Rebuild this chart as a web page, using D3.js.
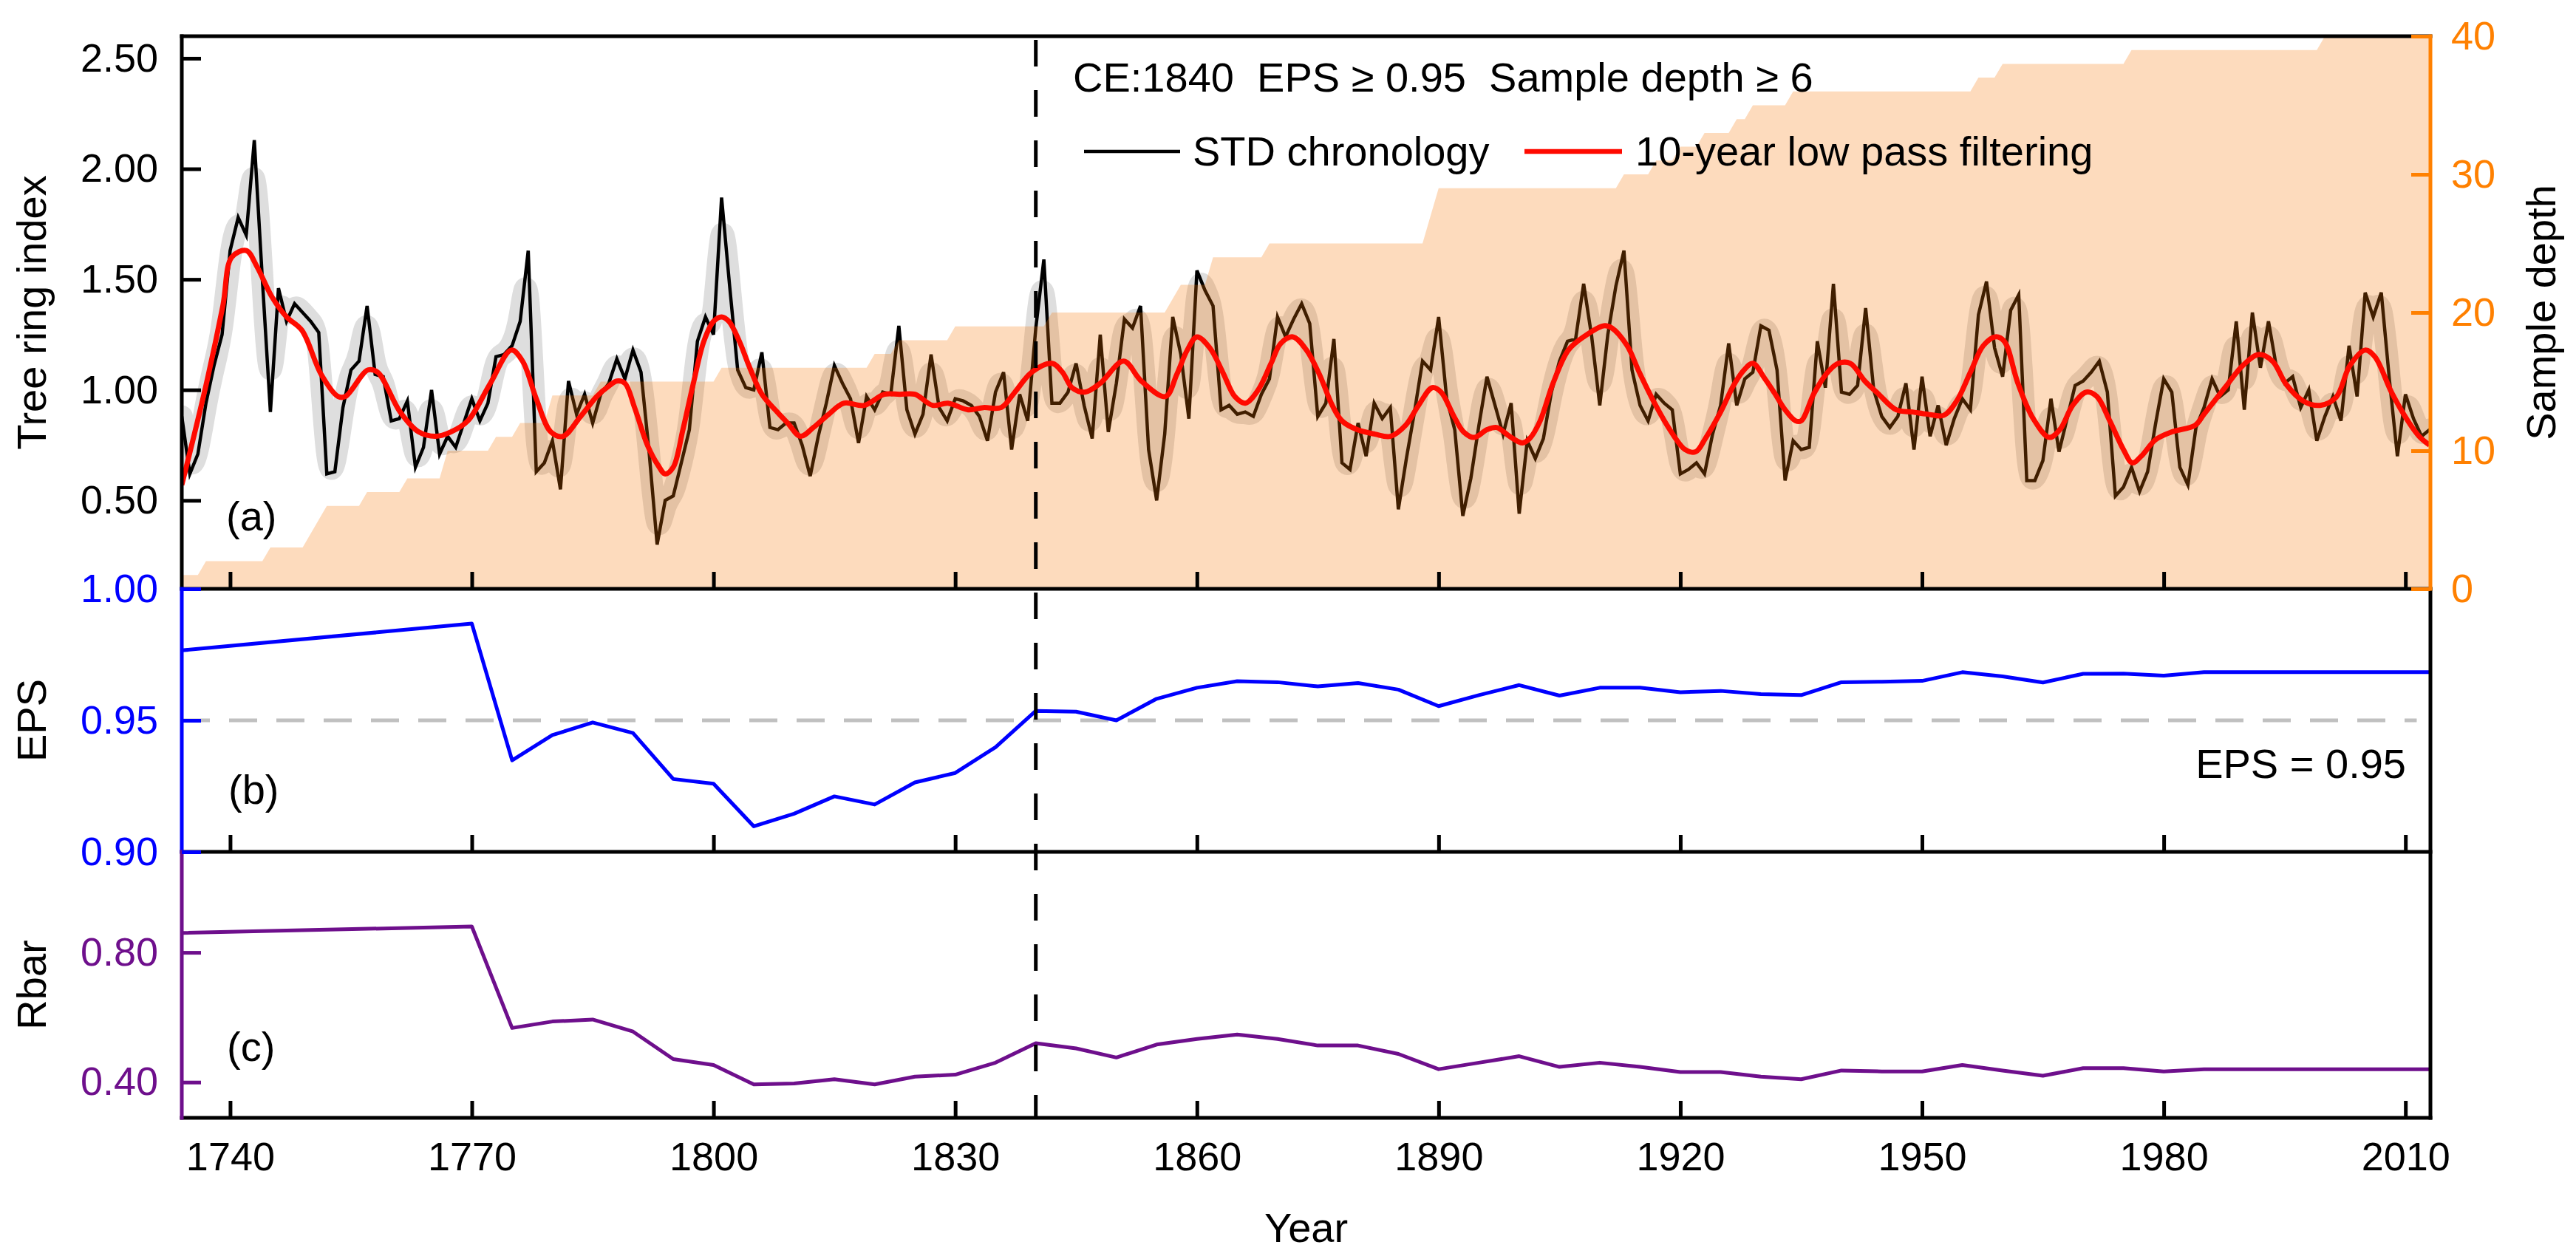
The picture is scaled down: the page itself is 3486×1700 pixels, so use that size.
<!DOCTYPE html>
<html>
<head>
<meta charset="utf-8">
<script src="https://cdn.jsdelivr.net/npm/d3@7"></script>
<style>
  body { margin: 0; background: #ffffff; }
  svg text { font-family: "Liberation Sans", Arial, sans-serif; }
</style>
</head>
<body>
<svg id="chart" width="3486" height="1700"></svg>
<script>
// ---------------- DATA ----------------
const firstYear = 1734;
// STD chronology, one value per year 1734..2013
const stdIndex = [
  0.88,0.62,0.71,0.94,1.11,1.25,                          // 1734-1739
  1.63,1.78,1.70,2.13,1.50,0.90,1.46,1.31,1.39,1.35,      // 1740s
  1.31,1.26,0.62,0.63,0.92,1.09,1.13,1.38,1.07,1.06,      // 1750s
  0.86,0.87,0.95,0.65,0.74,1.00,0.71,0.79,0.74,0.85,      // 1760s
  0.96,0.86,0.94,1.15,1.16,1.20,1.31,1.63,0.63,0.67,      // 1770s
  0.77,0.55,1.04,0.89,0.98,0.85,0.98,1.03,1.14,1.05,      // 1780s
  1.18,1.08,0.72,0.30,0.50,0.52,0.67,0.82,1.22,1.33,      // 1790s
  1.25,1.87,1.47,1.09,1.01,1.00,1.17,0.83,0.82,0.85,      // 1800s
  0.85,0.75,0.61,0.79,0.94,1.11,1.03,0.96,0.76,0.97,      // 1810s
  0.91,0.99,0.98,1.29,0.91,0.80,0.89,1.16,0.92,0.86,      // 1820s
  0.96,0.95,0.93,0.88,0.77,0.99,1.08,0.73,0.98,0.86,      // 1830s
  1.28,1.59,0.94,0.94,0.99,1.12,0.93,0.78,1.25,0.81,      // 1840s
  1.03,1.32,1.28,1.38,0.73,0.50,0.80,1.33,1.16,0.87,      // 1850s
  1.54,1.45,1.38,0.91,0.93,0.89,0.90,0.88,0.98,1.05,      // 1860s
  1.33,1.24,1.32,1.39,1.30,0.88,0.94,1.23,0.67,0.64,      // 1870s
  0.85,0.70,0.94,0.87,0.92,0.46,0.69,0.90,1.13,1.09,      // 1880s
  1.33,0.96,0.82,0.43,0.60,0.84,1.06,0.93,0.80,0.94,      // 1890s
  0.44,0.77,0.69,0.78,0.99,1.13,1.22,1.23,1.48,1.24,      // 1900s
  0.93,1.25,1.47,1.63,1.09,0.93,0.86,0.98,0.94,0.91,      // 1910s
  0.62,0.64,0.67,0.62,0.80,0.93,1.21,0.93,1.05,1.08,      // 1920s
  1.29,1.27,1.09,0.59,0.77,0.73,0.74,1.22,1.01,1.48,      // 1930s
  0.99,0.98,1.02,1.37,1.00,0.88,0.83,0.88,1.03,0.73,      // 1940s
  1.06,0.79,0.93,0.75,0.87,0.96,0.91,1.34,1.49,1.19,      // 1950s
  1.06,1.36,1.43,0.59,0.59,0.68,0.96,0.72,0.87,1.02,      // 1960s
  1.04,1.08,1.13,0.99,0.52,0.56,0.65,0.54,0.63,0.85,      // 1970s
  1.05,0.99,0.65,0.57,0.83,0.92,1.05,0.97,1.00,1.31,      // 1980s
  0.91,1.35,1.10,1.31,1.10,1.03,1.06,0.92,1.00,0.77,      // 1990s
  0.88,0.97,0.86,1.20,0.97,1.44,1.33,1.44,1.05,0.70,      // 2000s
  0.98,0.87,0.79,0.82                                     // 2010-2013
];

// 10-year low pass filtering curve, read at its turning points
const lowPassYears = [1734.0,1737.0,1739.1,1740.2,1742.0,1743.3,1745.2,1747.0,1748.9,1751.3,1753.4,1754.3,1757.1,1758.3,1761.1,1763.4,1765.5,1767.4,1769.5,1772.3,1774.9,1776.3,1778.0,1779.8,1781.3,1783.5,1785.5,1787.1,1788.0,1789.0,1790.2,1791.8,1793.1,1794.0,1795.0,1796.2,1797.5,1798.8,1800.0,1801.0,1801.9,1803.2,1804.5,1806.0,1807.9,1809.2,1810.8,1812.4,1814.3,1816.2,1818.7,1821.2,1823.1,1825.0,1827.2,1829.1,1831.6,1833.5,1835.7,1837.3,1839.5,1842.0,1843.3,1844.5,1846.1,1848.0,1850.9,1853.1,1856.1,1857.5,1858.8,1860.0,1861.6,1863.2,1864.7,1866.0,1867.6,1869.2,1870.4,1871.9,1873.6,1875.2,1876.8,1878.0,1879.9,1882.1,1884.0,1885.9,1887.5,1889.2,1890.3,1891.9,1893.1,1894.4,1896.0,1897.2,1898.8,1900.4,1901.3,1902.6,1904.2,1906.1,1908.0,1910.5,1911.5,1913.4,1914.9,1916.8,1918.7,1920.6,1921.9,1923.1,1925.0,1926.6,1927.9,1929.0,1930.5,1931.7,1933.0,1934.3,1935.0,1936.6,1938.3,1939.6,1941.1,1942.9,1944.5,1946.8,1948.8,1950.7,1952.7,1954.3,1956.0,1957.6,1959.1,1960.2,1961.9,1963.8,1965.8,1967.1,1968.7,1970.4,1971.7,1973.3,1975.0,1976.1,1977.2,1979.0,1981.0,1983.9,1985.0,1987.7,1989.8,1991.8,1993.5,1995.2,1997.3,1999.4,2001.4,2003.1,2005.0,2006.2,2008.3,2010.3,2011.7,2013.0];
const lowPassValues = [0.57,1.02,1.38,1.60,1.63,1.56,1.42,1.33,1.27,1.07,0.97,0.97,1.09,1.08,0.90,0.81,0.79,0.81,0.86,1.03,1.18,1.13,0.96,0.81,0.79,0.88,0.97,1.02,1.04,1.03,0.92,0.75,0.66,0.62,0.65,0.82,1.03,1.22,1.31,1.33,1.31,1.22,1.10,0.98,0.90,0.85,0.79,0.83,0.89,0.94,0.93,0.98,0.98,0.98,0.93,0.94,0.91,0.92,0.92,0.985,1.08,1.12,1.08,1.01,0.99,1.03,1.13,1.04,0.97,1.07,1.18,1.24,1.19,1.08,0.97,0.94,1.00,1.12,1.21,1.24,1.18,1.07,0.93,0.86,0.82,0.80,0.79,0.84,0.93,1.01,0.99,0.88,0.81,0.785,0.82,0.83,0.79,0.76,0.78,0.86,1.03,1.18,1.24,1.29,1.28,1.20,1.08,0.94,0.82,0.73,0.72,0.78,0.90,1.02,1.09,1.12,1.05,0.985,0.91,0.86,0.86,0.985,1.08,1.12,1.12,1.04,0.985,0.91,0.90,0.89,0.885,0.95,1.08,1.20,1.24,1.22,1.03,0.87,0.785,0.82,0.93,0.99,0.97,0.86,0.73,0.67,0.70,0.775,0.81,0.84,0.89,1.015,1.11,1.16,1.13,1.025,0.95,0.93,0.967,1.11,1.18,1.15,0.987,0.86,0.79,0.75];

// Sample depth: the year each new depth starts, and that depth
const depthStartYears = [1734,1737,1745,1750,1751,1752,1757,1762,1767,1773,1776,1780,1786,1801,1820,1823,1830,1842,1857,1858,1862,1869,1889,1890,1913,1917,1920,1923,1927,1929,1934,1957,1960,1976,2000];
const depthValues     = [1,   2,   3,   4,   5,   6,   7,   8,   10,  11,  12,  14,  15,  16,  17,  18,  19,  20,  21,  22,  24,  25,  27,  29,  30,  31,  32,  33,  34,  35,  36,  37,  38,  39,  40];
const lastYear = 2013;

// EPS and Rbar (running windows)
const statYears  = [1734,1770,1775,1780,1785,1790,1795,1800,1805,1810,1815,1820,1825,1830,1835,1840,1845,1850,1855,1860,1865,1870,1875,1880,1885,1890,1895,1900,1905,1910,1915,1920,1925,1930,1935,1940,1945,1950,1955,1960,1965,1970,1975,1980,1985,1990,1995,2000,2005,2010,2013];
const epsValues  = [0.9766,0.9868,0.9348,0.9444,0.9492,0.9452,0.9277,0.9259,0.9097,0.9145,0.9211,0.9180,0.9264,0.9300,0.9398,0.9536,0.9533,0.9500,0.9582,0.9624,0.9649,0.9645,0.9629,0.9642,0.9617,0.9554,0.9596,0.9634,0.9594,0.9624,0.9624,0.9607,0.9612,0.9600,0.9596,0.9645,0.9647,0.9650,0.9683,0.9667,0.9644,0.9677,0.9678,0.9670,0.9683,0.9683,0.9683,0.9683,0.9683,0.9683,0.9683];
const rbarValues = [0.860,0.880,0.567,0.587,0.593,0.556,0.471,0.453,0.393,0.396,0.409,0.393,0.417,0.423,0.460,0.520,0.504,0.476,0.516,0.533,0.547,0.533,0.513,0.513,0.487,0.440,0.460,0.480,0.447,0.460,0.447,0.431,0.431,0.417,0.409,0.436,0.433,0.433,0.453,0.436,0.420,0.443,0.443,0.433,0.440,0.440,0.440,0.440,0.440,0.440,0.440];

const epsThreshold = 0.95;
const cutYear = 1840;

// Tick values
const yearTicks  = [1740,1770,1800,1830,1860,1890,1920,1950,1980,2010];
const indexTicks = [0.50,1.00,1.50,2.00,2.50];
const depthTicks = [0,10,20,30,40];
const epsTicks   = [0.90,0.95,1.00];
const rbarTicks  = [0.40,0.80];

// Texts
const annotationText = "CE:1840  EPS \u2265 0.95  Sample depth \u2265 6";
const legendStd = "STD chronology";
const legendLow = "10-year low pass filtering";

// ---------------- LAYOUT ----------------
const L = 246, R = 3289;
const aTop = 49, aBot = 797, bBot = 1153, cBot = 1513;
const ORANGE = "#ff8000", BLUE = "#0000ff", PURPLE = "#6e0f8c", RED = "#ff0a00";
const FONT_TICK = "54px", FONT = "56px";

const svg = d3.select("#chart");

const x = d3.scaleLinear().domain([1734, 2013.1]).range([L, R]);
const yIdx = d3.scaleLinear().domain([0.1, 2.6]).range([aBot, aTop]);
const yDep = d3.scaleLinear().domain([0, 40]).range([aBot, aTop]);
const yEps = d3.scaleLinear().domain([0.90, 1.00]).range([bBot, aBot]);
const yRb  = d3.scaleLinear().domain([0.29, 1.11]).range([cBot, bBot]);

const chron = stdIndex.map((v, i) => ({ year: firstYear + i, v }));
const lowPass = lowPassYears.map((yr, i) => ({ year: yr, v: lowPassValues[i] }));
const depth = [];
for (let yr = firstYear; yr <= lastYear; yr++) {
  let d = depthValues[0];
  depthStartYears.forEach((s, i) => { if (yr >= s) d = depthValues[i]; });
  depth.push({ year: yr, d });
}
const stats = statYears.map((yr, i) => ({ year: yr, eps: epsValues[i], rbar: rbarValues[i] }));

svg.append("defs").append("clipPath").attr("id", "clipA")
  .append("rect").attr("x", L).attr("y", aTop).attr("width", R - L).attr("height", aBot - aTop);

// ---------- Panel (a) ----------
const gA = svg.append("g").attr("clip-path", "url(#clipA)");

// uncertainty band (smoothed halo around the chronology)
gA.append("path").datum(chron)
  .attr("d", d3.line().x(d => x(d.year)).y(d => yIdx(d.v)).curve(d3.curveBasis))
  .attr("fill", "none").attr("stroke", "#dedede").attr("stroke-width", 30)
  .attr("stroke-linejoin", "round").attr("stroke-linecap", "round");

// STD chronology
gA.append("path").datum(chron)
  .attr("d", d3.line().x(d => x(d.year)).y(d => yIdx(d.v)))
  .attr("fill", "none").attr("stroke", "#000").attr("stroke-width", 4.5);

const tickStyle = (g, color) => {
  g.select(".domain").remove();
  g.selectAll(".tick line").attr("stroke", color).attr("stroke-width", 5);
  g.selectAll(".tick text").attr("fill", color).style("font-size", FONT_TICK)
    .style("font-family", "'Liberation Sans', Arial, sans-serif");
};
// x ticks at panel (a) bottom (under the fill)
svg.append("g").attr("transform", `translate(0,${aBot})`)
  .call(d3.axisBottom(x).tickValues(yearTicks).tickFormat("").tickSizeInner(-23).tickSizeOuter(0))
  .call(g => tickStyle(g, "#000"));

// sample depth fill
gA.append("path").datum(depth)
  .attr("d", d3.area().x(d => x(d.year)).y0(yDep(0)).y1(d => yDep(d.d)))
  .attr("fill", "#f87400").attr("fill-opacity", 0.26);

// low pass curve
gA.append("path").datum(lowPass)
  .attr("d", d3.line().x(d => x(d.year)).y(d => yIdx(d.v)).curve(d3.curveCatmullRom.alpha(0.5)))
  .attr("fill", "none").attr("stroke", RED).attr("stroke-width", 7)
  .attr("stroke-linejoin", "round");

// ---------- Panel (b) ----------
svg.append("line").attr("x1", L).attr("x2", x(2011.4)).attr("y1", yEps(epsThreshold)).attr("y2", yEps(epsThreshold))
  .attr("stroke", "#c0c0c0").attr("stroke-width", 5).attr("stroke-dasharray", "38,26");
svg.append("path").datum(stats)
  .attr("d", d3.line().x(d => x(d.year)).y(d => yEps(d.eps)))
  .attr("fill", "none").attr("stroke", BLUE).attr("stroke-width", 5).attr("stroke-linejoin", "round");

// ---------- Panel (c) ----------
svg.append("path").datum(stats)
  .attr("d", d3.line().x(d => x(d.year)).y(d => yRb(d.rbar)))
  .attr("fill", "none").attr("stroke", PURPLE).attr("stroke-width", 5).attr("stroke-linejoin", "round");

// ---------- Frames ----------
const frame = (x1, y1, x2, y2, c) => svg.append("line")
  .attr("x1", x1).attr("y1", y1).attr("x2", x2).attr("y2", y2)
  .attr("stroke", c).attr("stroke-width", 5).attr("stroke-linecap", "square");
frame(L, aTop, R, aTop, "#000");
frame(L, aBot, R, aBot, "#000");
frame(L, bBot, R, bBot, "#000");
frame(L, cBot, R, cBot, "#000");
frame(L, aTop, L, aBot, "#000");
frame(L, aBot, L, bBot, BLUE);
frame(L, bBot, L, cBot, PURPLE);
frame(R, aBot, R, cBot, "#000");
frame(R, aTop, R, aBot, ORANGE);

// x ticks panels b, c and labels
svg.append("g").attr("transform", `translate(0,${bBot})`)
  .call(d3.axisBottom(x).tickValues(yearTicks).tickFormat("").tickSizeInner(-23).tickSizeOuter(0))
  .call(g => tickStyle(g, "#000"));
svg.append("g").attr("transform", `translate(0,${cBot})`)
  .call(d3.axisBottom(x).tickValues(yearTicks).tickFormat(d3.format("d")).tickSizeInner(-23).tickSizeOuter(0).tickPadding(33))
  .call(g => tickStyle(g, "#000"));

// y axes
svg.append("g").attr("transform", `translate(${L},0)`)
  .call(d3.axisLeft(yIdx).tickValues(indexTicks).tickFormat(d3.format(".2f")).tickSizeInner(-26).tickSizeOuter(0).tickPadding(32))
  .call(g => tickStyle(g, "#000"));
svg.append("g").attr("transform", `translate(${R},0)`)
  .call(d3.axisRight(yDep).tickValues(depthTicks).tickFormat(d3.format("d")).tickSizeInner(-26).tickSizeOuter(0).tickPadding(28))
  .call(g => tickStyle(g, ORANGE));
svg.append("g").attr("transform", `translate(${L},0)`)
  .call(d3.axisLeft(yEps).tickValues(epsTicks).tickFormat(d3.format(".2f")).tickSizeInner(-26).tickSizeOuter(0).tickPadding(32))
  .call(g => tickStyle(g, BLUE));
svg.append("g").attr("transform", `translate(${L},0)`)
  .call(d3.axisLeft(yRb).tickValues(rbarTicks).tickFormat(d3.format(".2f")).tickSizeInner(-26).tickSizeOuter(0).tickPadding(32))
  .call(g => tickStyle(g, PURPLE));

// vertical dashed line at 1840
svg.append("line").attr("x1", x(cutYear)).attr("x2", x(cutYear)).attr("y1", 54).attr("y2", cBot)
  .attr("stroke", "#000").attr("stroke-width", 5).attr("stroke-dasharray", "36,32");

// ---------- Texts ----------
const txt = (s, xx, yy, opts = {}) => {
  const t = svg.append("text").attr("x", xx).attr("y", yy).text(s)
    .style("font-size", opts.size || FONT).attr("fill", opts.fill || "#000")
    .attr("text-anchor", opts.anchor || "start").style("white-space", "pre");
  if (opts.rotate) t.attr("transform", `rotate(-90,${xx},${yy})`).attr("dy", "0.35em");
  return t;
};
txt(annotationText, 1452, 124);
svg.append("line").attr("x1", 1467).attr("x2", 1597).attr("y1", 205).attr("y2", 205)
  .attr("stroke", "#000").attr("stroke-width", 4.5);
txt(legendStd, 1614, 224);
svg.append("line").attr("x1", 2063).attr("x2", 2195).attr("y1", 205).attr("y2", 205)
  .attr("stroke", RED).attr("stroke-width", 6.5);
txt(legendLow, 2213, 224);

txt("(a)", 306, 718);
txt("(b)", 309, 1088);
txt("(c)", 307, 1436);
txt("EPS = 0.95", 3256, 1053, { anchor: "end" });

txt("Tree ring index", 42, (aTop + aBot) / 2, { anchor: "middle", rotate: true });
txt("Sample depth", 3438, (aTop + aBot) / 2, { anchor: "middle", rotate: true });
txt("EPS", 42, (aBot + bBot) / 2, { anchor: "middle", rotate: true });
txt("Rbar", 42, (bBot + cBot) / 2, { anchor: "middle", rotate: true });
txt("Year", (L + R) / 2, 1681, { anchor: "middle" });
</script>
</body>
</html>
